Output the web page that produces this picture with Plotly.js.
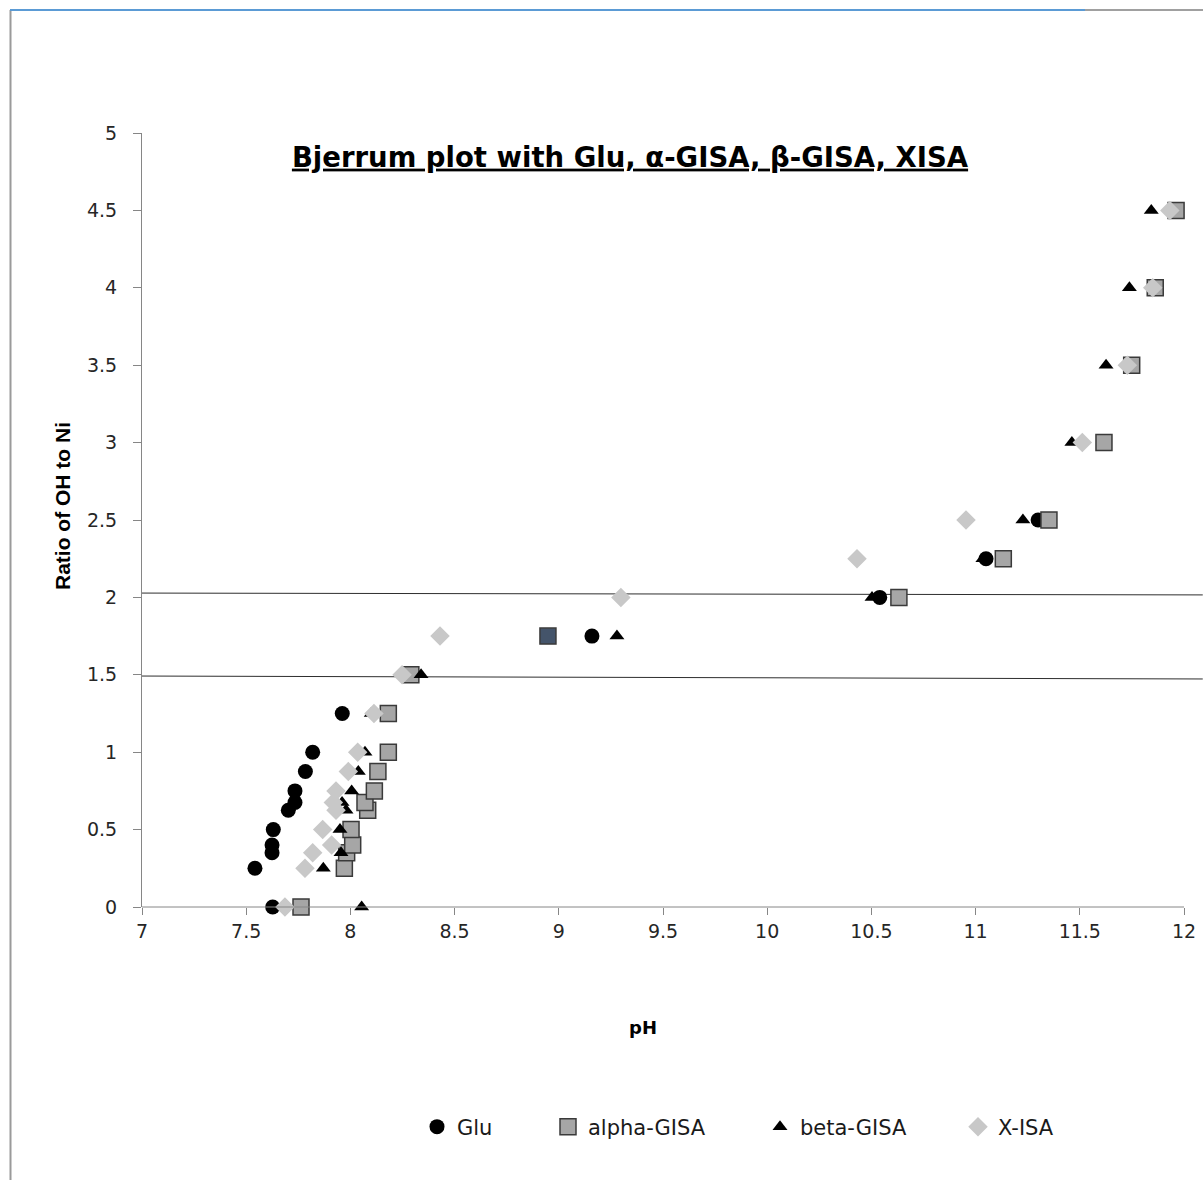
<!DOCTYPE html>
<html>
<head>
<meta charset="utf-8">
<script src="https://cdn.plot.ly/plotly-3.0.1.min.js"></script>
<style>
  html, body { margin: 0; padding: 0; background: #ffffff; }
  #chart { width: 1203px; height: 1180px; }
</style>
</head>
<body>
<div id="chart"></div>
<script>
// ---------- data ----------
const pHTicks = [7, 7.5, 8, 8.5, 9, 9.5, 10, 10.5, 11, 11.5, 12];
const pHTickLabels = ['7', '7.5', '8', '8.5', '9', '9.5', '10', '10.5', '11', '11.5', '12'];
const ratioTicks = [0, 0.5, 1, 1.5, 2, 2.5, 3, 3.5, 4, 4.5, 5];
const ratioTickLabels = ['0', '0.5', '1', '1.5', '2', '2.5', '3', '3.5', '4', '4.5', '5'];

const gluPH    = [7.627, 7.542, 7.624, 7.624, 7.630, 7.702, 7.734, 7.734, 7.784, 7.819, 7.961, 9.159, 10.540, 11.050, 11.300];
const gluRatio = [0, 0.25, 0.35, 0.40, 0.50, 0.625, 0.675, 0.75, 0.875, 1.00, 1.25, 1.75, 2.00, 2.25, 2.50];

const alphaPH    = [7.763, 7.971, 7.982, 8.011, 8.003, 8.083, 8.070, 8.115, 8.132, 8.182, 8.182, 8.290, 8.948, 10.632, 11.133, 11.352, 11.616, 11.749, 11.862, 11.962];
const alphaRatio = [0, 0.25, 0.35, 0.40, 0.50, 0.625, 0.675, 0.75, 0.875, 1.00, 1.25, 1.50, 1.75, 2.00, 2.25, 2.50, 3.00, 3.50, 4.00, 4.50];

const betaPH    = [8.054, 7.870, 7.955, 7.950, 7.979, 7.960, 8.006, 8.038, 8.070, 8.100, 8.339, 9.279, 10.503, 11.035, 11.227, 11.462, 11.626, 11.738, 11.843];
const betaRatio = [0, 0.25, 0.35, 0.50, 0.625, 0.675, 0.75, 0.875, 1.00, 1.25, 1.50, 1.75, 2.00, 2.25, 2.50, 3.00, 3.50, 4.00, 4.50];

const xisaPH    = [7.686, 7.782, 7.819, 7.910, 7.867, 7.931, 7.918, 7.931, 7.990, 8.035, 8.113, 8.248, 8.430, 9.298, 10.431, 10.954, 11.512, 11.728, 11.850, 11.932];
const xisaRatio = [0, 0.25, 0.35, 0.40, 0.50, 0.625, 0.675, 0.75, 0.875, 1.00, 1.25, 1.50, 1.75, 2.00, 2.25, 2.50, 3.00, 3.50, 4.00, 4.50];

// two drawn reference lines (slightly sloped)
const refLinePH     = [7, 12.09];
const refLineUpper  = [2.028, 2.016];
const refLineLower  = [1.492, 1.473];

// the one alpha-GISA point drawn in a darker colour
const alphaHighlightRatio = 1.75;

// ---------- styling ----------
const GREY_AXIS = '#868686';
const tickFont = { family: 'DejaVu Sans, Verdana, sans-serif', size: 19, color: '#262626' };
const legendFont = { family: 'DejaVu Sans, sans-serif', size: 21, color: '#1a1a1a' };

const alphaColors = alphaRatio.map(r => r === alphaHighlightRatio ? '#44546a' : '#a6a6a6');

const traces = [
  { type: 'scatter', mode: 'lines', x: refLinePH, y: refLineUpper, showlegend: false, hoverinfo: 'skip',
    line: { color: '#2e2e2e', width: 1 } },
  { type: 'scatter', mode: 'lines', x: refLinePH, y: refLineLower, showlegend: false, hoverinfo: 'skip',
    line: { color: '#2e2e2e', width: 1 } },
  { type: 'scatter', mode: 'markers', name: 'Glu', x: gluPH, y: gluRatio, legend: 'legend',
    cliponaxis: false,
    marker: { symbol: 'circle', size: 15, color: '#000000', line: { width: 0 } } },
  { type: 'scatter', mode: 'markers', name: 'alpha-GISA', x: alphaPH, y: alphaRatio, legend: 'legend2',
    cliponaxis: false,
    marker: { symbol: 'square', size: 16, color: alphaColors, line: { width: 1.5, color: '#3a3a3a' } } },
  { type: 'scatter', mode: 'markers', name: 'beta-GISA', x: betaPH, y: betaRatio, legend: 'legend3',
    cliponaxis: false,
    marker: { symbol: 'triangle-up', size: 13, color: '#000000', line: { width: 0 } } },
  { type: 'scatter', mode: 'markers', name: 'X-ISA', x: xisaPH, y: xisaRatio, legend: 'legend4',
    cliponaxis: false,
    marker: { symbol: 'diamond', size: 15, color: '#c8c8c8', line: { width: 0 } } }
];

function legendAt(xc) {
  return {
    orientation: 'h', xref: 'container', yref: 'container',
    x: xc, xanchor: 'left', y: 1 - 1127 / 1180, yanchor: 'middle',
    bgcolor: 'rgba(0,0,0,0)', borderwidth: 0, font: legendFont,
    itemclick: false, itemdoubleclick: false
  };
}

const layout = {
  width: 1203, height: 1180,
  paper_bgcolor: '#ffffff', plot_bgcolor: '#ffffff',
  margin: { l: 142, r: 0, t: 133, b: 273, pad: 0 },
  title: {
    text: '<span style="text-decoration:underline">Bjerrum plot with Glu, α-GISA, β-GISA, XISA</span>',
    xref: 'container', x: 630 / 1203, xanchor: 'center',
    yref: 'container', y: 1 - 157 / 1180, yanchor: 'middle',
    font: { family: 'DejaVu Sans, sans-serif', size: 27.5, weight: 700, color: '#000000' }
  },
  xaxis: {
    range: [7, 7 + 5 * 1061 / 1042],
    tickmode: 'array', tickvals: pHTicks, ticktext: pHTickLabels,
    ticks: 'outside', ticklen: 7, tickwidth: 1, tickcolor: GREY_AXIS,
    showline: false, showgrid: false, zeroline: false,
    tickfont: tickFont, fixedrange: true
  },
  yaxis: {
    range: [0, 5],
    tickmode: 'array', tickvals: ratioTicks, ticktext: ratioTickLabels,
    ticks: 'outside', ticklen: 8, tickwidth: 1, tickcolor: GREY_AXIS,
    showline: true, linecolor: GREY_AXIS, linewidth: 1,
    showgrid: false, zeroline: false, ticklabelstandoff: 12,
    tickfont: tickFont, fixedrange: true
  },
  legend: legendAt(417 / 1203),
  legend2: legendAt(548 / 1203),
  legend3: legendAt(760 / 1203),
  legend4: legendAt(958 / 1203),
  annotations: [
    { text: 'pH', showarrow: false, xref: 'paper', x: (643 - 142) / 1061, xanchor: 'center',
      yref: 'paper', y: (907 - 1027) / 774, yanchor: 'middle',
      font: { family: 'DejaVu Sans, sans-serif', size: 18, weight: 700, color: '#000000' } },
    { text: 'Ratio of OH to Ni', showarrow: false, textangle: -90,
      xref: 'paper', x: (62 - 142) / 1061, xanchor: 'center',
      yref: 'paper', y: (907 - 506) / 774, yanchor: 'middle',
      font: { family: 'Liberation Sans, Arial, sans-serif', size: 21, weight: 700, color: '#000000' } }
  ],
  shapes: [
    // x-axis baseline from pH 7 to pH 12
    { type: 'line', xref: 'x', yref: 'paper', x0: pHTicks[0], x1: pHTicks[pHTicks.length - 1], y0: 0, y1: 0,
      line: { color: GREY_AXIS, width: 1 } },
    // outer frame of the original figure
    { type: 'line', xref: 'paper', yref: 'paper', x0: (10.5 - 142) / 1061, x1: (10.5 - 142) / 1061,
      y0: (907 - 1180) / 774, y1: (907 - 10) / 774, line: { color: '#9a9a9a', width: 2 } },
    { type: 'line', xref: 'paper', yref: 'paper', x0: (10 - 142) / 1061, x1: (1085 - 142) / 1061,
      y0: (907 - 10) / 774, y1: (907 - 10) / 774, line: { color: '#5b9bd5', width: 2 } },
    { type: 'line', xref: 'paper', yref: 'paper', x0: (1085 - 142) / 1061, x1: 1,
      y0: (907 - 10) / 774, y1: (907 - 10) / 774, line: { color: '#808080', width: 1.5 } }
  ],
  showlegend: true
};

Plotly.newPlot('chart', traces, layout, { displayModeBar: false, staticPlot: true });
</script>
</body>
</html>
